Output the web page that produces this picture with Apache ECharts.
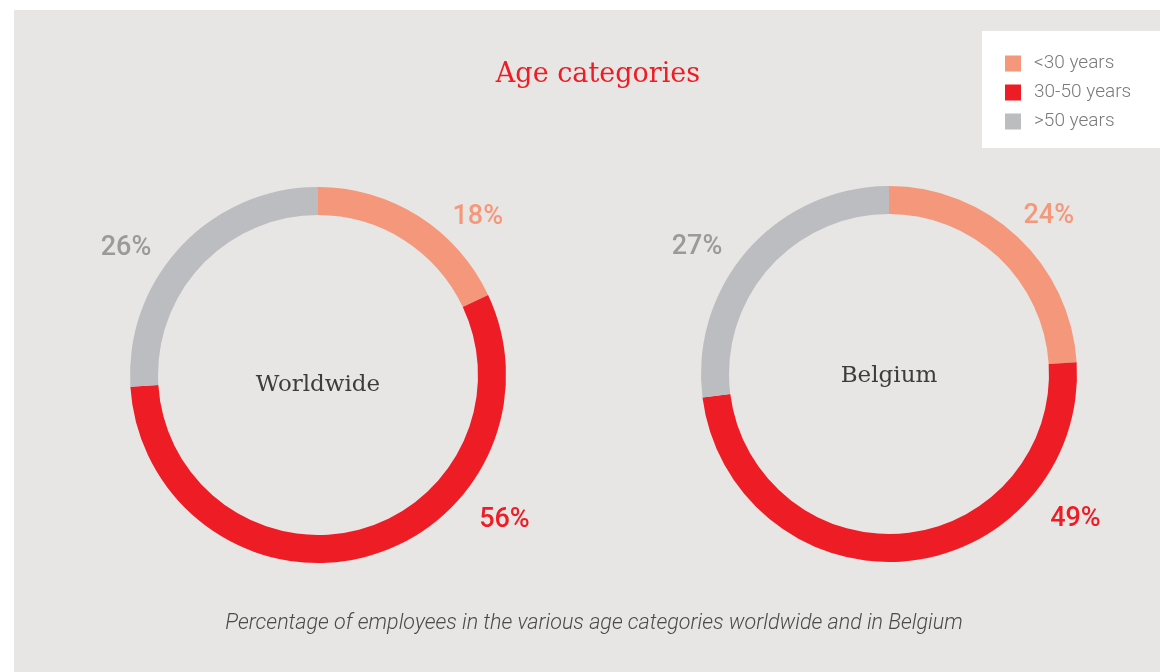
<!DOCTYPE html>
<html>
<head>
<meta charset="utf-8">
<script src="https://cdn.jsdelivr.net/npm/echarts@6/dist/echarts.min.js"></script>
<style>
  html, body { margin: 0; padding: 0; background: #fff; }
  #main { width: 1160px; height: 672px; }
</style>
</head>
<body>
<div id="main"></div>
<script>
// data
var categories = ['<30 years', '30-50 years', '>50 years'];
var worldwide = [18, 56, 26];
var belgium = [24, 49, 27];
var regions = ['Worldwide', 'Belgium'];

var sliceColors = ['#f5977a', '#ee1c25', '#bcbdc0'];
var labelColors = ['#f5977a', '#ee1c25', '#9a9a9a'];
// label placement around each ring (degrees clockwise from top, px from centre)
var labelAngle = [45, 127.5, 303.8];
var labelDist = [226, 235, 231];
var centers = [[318, 375], [889, 374]];

function buildData(vals) {
    return vals.map(function (v, i) {
        return {
            name: categories[i],
            value: v,
            itemStyle: { color: sliceColors[i] },
            label: { color: labelColors[i] }
        };
    });
}

function layoutFor(ci) {
    return function (p) {
        var a = labelAngle[p.dataIndex] * Math.PI / 180;
        var d = labelDist[p.dataIndex];
        return {
            x: centers[ci][0] + d * Math.sin(a),
            y: centers[ci][1] - d * Math.cos(a) + 2,
            align: 'center',
            verticalAlign: 'middle'
        };
    };
}

function pieSeries(name, vals, ci) {
    return {
        name: name,
        type: 'pie',
        radius: [160, 188],
        center: centers[ci],
        startAngle: 90,
        clockwise: true,
        silent: true,
        data: buildData(vals),
        label: {
            show: true,
            position: 'outside',
            formatter: function (p) { return p.value + '%'; },
            fontFamily: 'Roboto',
            fontSize: 27,
            fontWeight: 500
        },
        labelLine: { show: false },
        labelLayout: layoutFor(ci)
    };
}

var chart = echarts.init(document.getElementById('main'));
var option = {
    animation: false,
    backgroundColor: '#ffffff',
    graphic: [
        { type: 'rect', z: -10, shape: { x: 14, y: 10, width: 1146, height: 662 }, style: { fill: '#e7e6e4' } },
        { type: 'rect', z: -9, shape: { x: 982, y: 31, width: 178, height: 117 }, style: { fill: '#ffffff' } }
    ],
    title: [
        {
            text: 'Age categories', left: 598, top: 61, textAlign: 'center', padding: 0,
            textStyle: { color: '#ee1c25', fontFamily: 'DejaVu Serif', fontSize: 27, fontWeight: 'normal' }
        },
        {
            text: regions[0], left: 318, top: 374, textAlign: 'center', padding: 0,
            textStyle: { color: '#3d3d3d', fontFamily: 'DejaVu Serif', fontSize: 23, fontWeight: 'normal' }
        },
        {
            text: regions[1], left: 889, top: 365, textAlign: 'center', padding: 0,
            textStyle: { color: '#3d3d3d', fontFamily: 'DejaVu Serif', fontSize: 23, fontWeight: 'normal' }
        },
        {
            text: 'Percentage of employees in the various age categories worldwide and in Belgium',
            left: 594, top: 613, textAlign: 'center', padding: 0,
            textStyle: { color: '#4a4a4a', fontFamily: 'Roboto', fontStyle: 'italic', fontSize: 21.5, fontWeight: 300 }
        }
    ],
    legend: {
        orient: 'vertical',
        left: 1005,
        top: 54,
        padding: 0,
        itemWidth: 16,
        itemHeight: 16,
        itemGap: 10,
        icon: 'rect',
        selectedMode: false,
        data: categories,
        textStyle: { color: '#7a7a7a', fontFamily: 'Roboto', fontSize: 19, fontWeight: 300, padding: [0, 0, 0, 8] }
    },
    series: [
        pieSeries(regions[0], worldwide, 0),
        pieSeries(regions[1], belgium, 1)
    ]
};
chart.setOption(option);
</script>
</body>
</html>
